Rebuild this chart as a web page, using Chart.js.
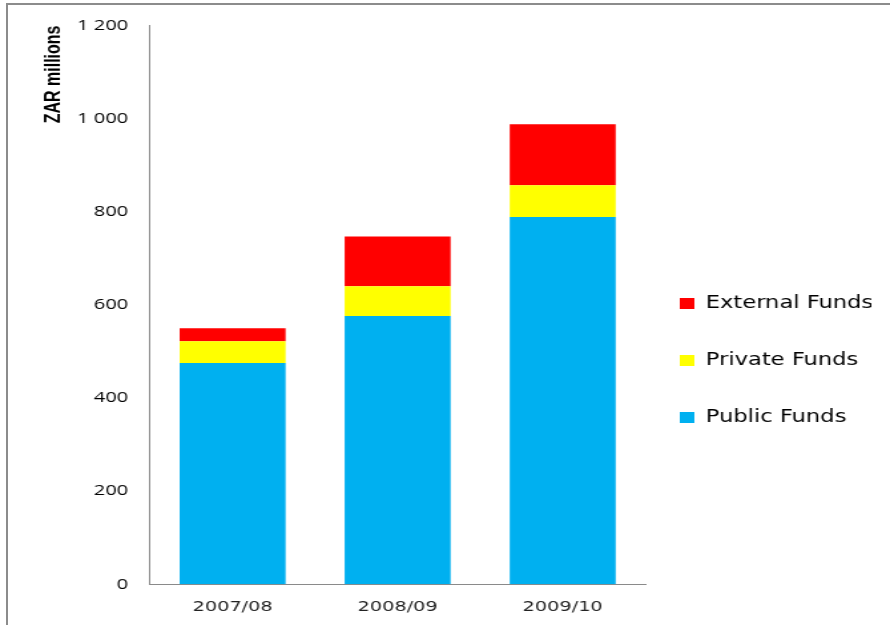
<!DOCTYPE html>
<html>
<head>
<meta charset="utf-8">
<script src="https://cdn.jsdelivr.net/npm/chart.js@4.4.1/dist/chart.umd.min.js"></script>
<style>
  html, body { margin: 0; padding: 0; background: #fff; overflow: hidden; }
  #wrap { position: relative; width: 890px; height: 625px; }
  #frame {
    position: absolute; left: 6px; top: 3px; right: 0; bottom: 0;
    border-left: 2px solid #8c8c8c; border-top: 2px solid #8c8c8c;
    pointer-events: none;
  }
  /* the figure is drawn on a narrower canvas and widened to the page */
  #chart {
    position: absolute; left: 0; top: 0;
    transform-origin: 0 0;
    transform: scaleX(1.3303);
  }
</style>
</head>
<body>
<div id="wrap">
  <canvas id="chart" width="669" height="625"></canvas>
  <div id="frame"></div>
</div>
<script>
// Funding by source, ZAR millions
const years = ['2007/08', '2008/09', '2009/10'];
const publicFunds = [475, 576, 789];
const privateFunds = [47, 64, 68];
const externalFunds = [28, 107, 131];
const yTicks = [0, 200, 400, 600, 800, 1000, 1200];

const fmtThousands = v => String(v).replace(/\B(?=(\d{3})+(?!\d))/g, ' ');

// nudges the legend block into place after layout
const legendShift = {
  id: 'legendShift',
  afterLayout(chart, args, opts) {
    const l = chart.legend;
    if (!l) return;
    l.left += opts.dx; l.right += opts.dx;
    l.top += opts.dy; l.bottom += opts.dy;
  }
};

new Chart(document.getElementById('chart'), {
  type: 'bar',
  data: {
    labels: years,
    datasets: [
      { label: 'Public Funds', data: publicFunds, backgroundColor: '#00B0F0' },
      { label: 'Private Funds', data: privateFunds, backgroundColor: '#FFFF00' },
      { label: 'External Funds', data: externalFunds, backgroundColor: '#FF0000' }
    ]
  },
  options: {
    responsive: false,
    animation: false,
    devicePixelRatio: 1,
    datasets: { bar: { categoryPercentage: 1, barPercentage: 0.642 } },
    layout: { padding: { left: 10, right: 0, top: 24, bottom: 0 } },
    scales: {
      x: {
        stacked: true,
        afterFit: axis => { axis.height = 40.7; },
        grid: { display: false, drawTicks: false },
        border: { display: true, color: '#8a8a8a', width: 1 },
        ticks: {
          color: '#222',
          padding: 14,
          font: { family: '"DejaVu Sans", Verdana, sans-serif', size: 14.5 }
        }
      },
      y: {
        stacked: true,
        min: 0,
        max: 1200,
        afterBuildTicks: axis => { axis.ticks = yTicks.map(v => ({ value: v })); },
        afterFit: axis => { axis.width = 102.8; },
        grid: { display: false, drawTicks: false },
        border: { display: true, color: '#8a8a8a', width: 1 },
        ticks: {
          color: '#000',
          padding: 16.5,
          font: { family: '"Open Sans", sans-serif', size: 15 },
          callback: v => fmtThousands(v)
        },
        title: {
          display: true,
          text: 'ZAR millions',
          align: 'end',
          color: '#000',
          padding: { top: 21, bottom: 4 },
          font: { family: '"Liberation Sans Narrow", "Liberation Sans", sans-serif', size: 16, weight: 'bold' }
        }
      }
    },
    plugins: {
      legend: {
        position: 'right',
        reverse: true,
        maxWidth: 184,
        labels: {
          boxWidth: 11,
          boxHeight: 11,
          padding: 40,
          color: '#000',
          font: { family: '"DejaVu Sans", Verdana, sans-serif', size: 17 }
        }
      },
      legendShift: { dx: -14, dy: 36 },
      tooltip: { enabled: false }
    }
  },
  plugins: [legendShift]
});
</script>
</body>
</html>
